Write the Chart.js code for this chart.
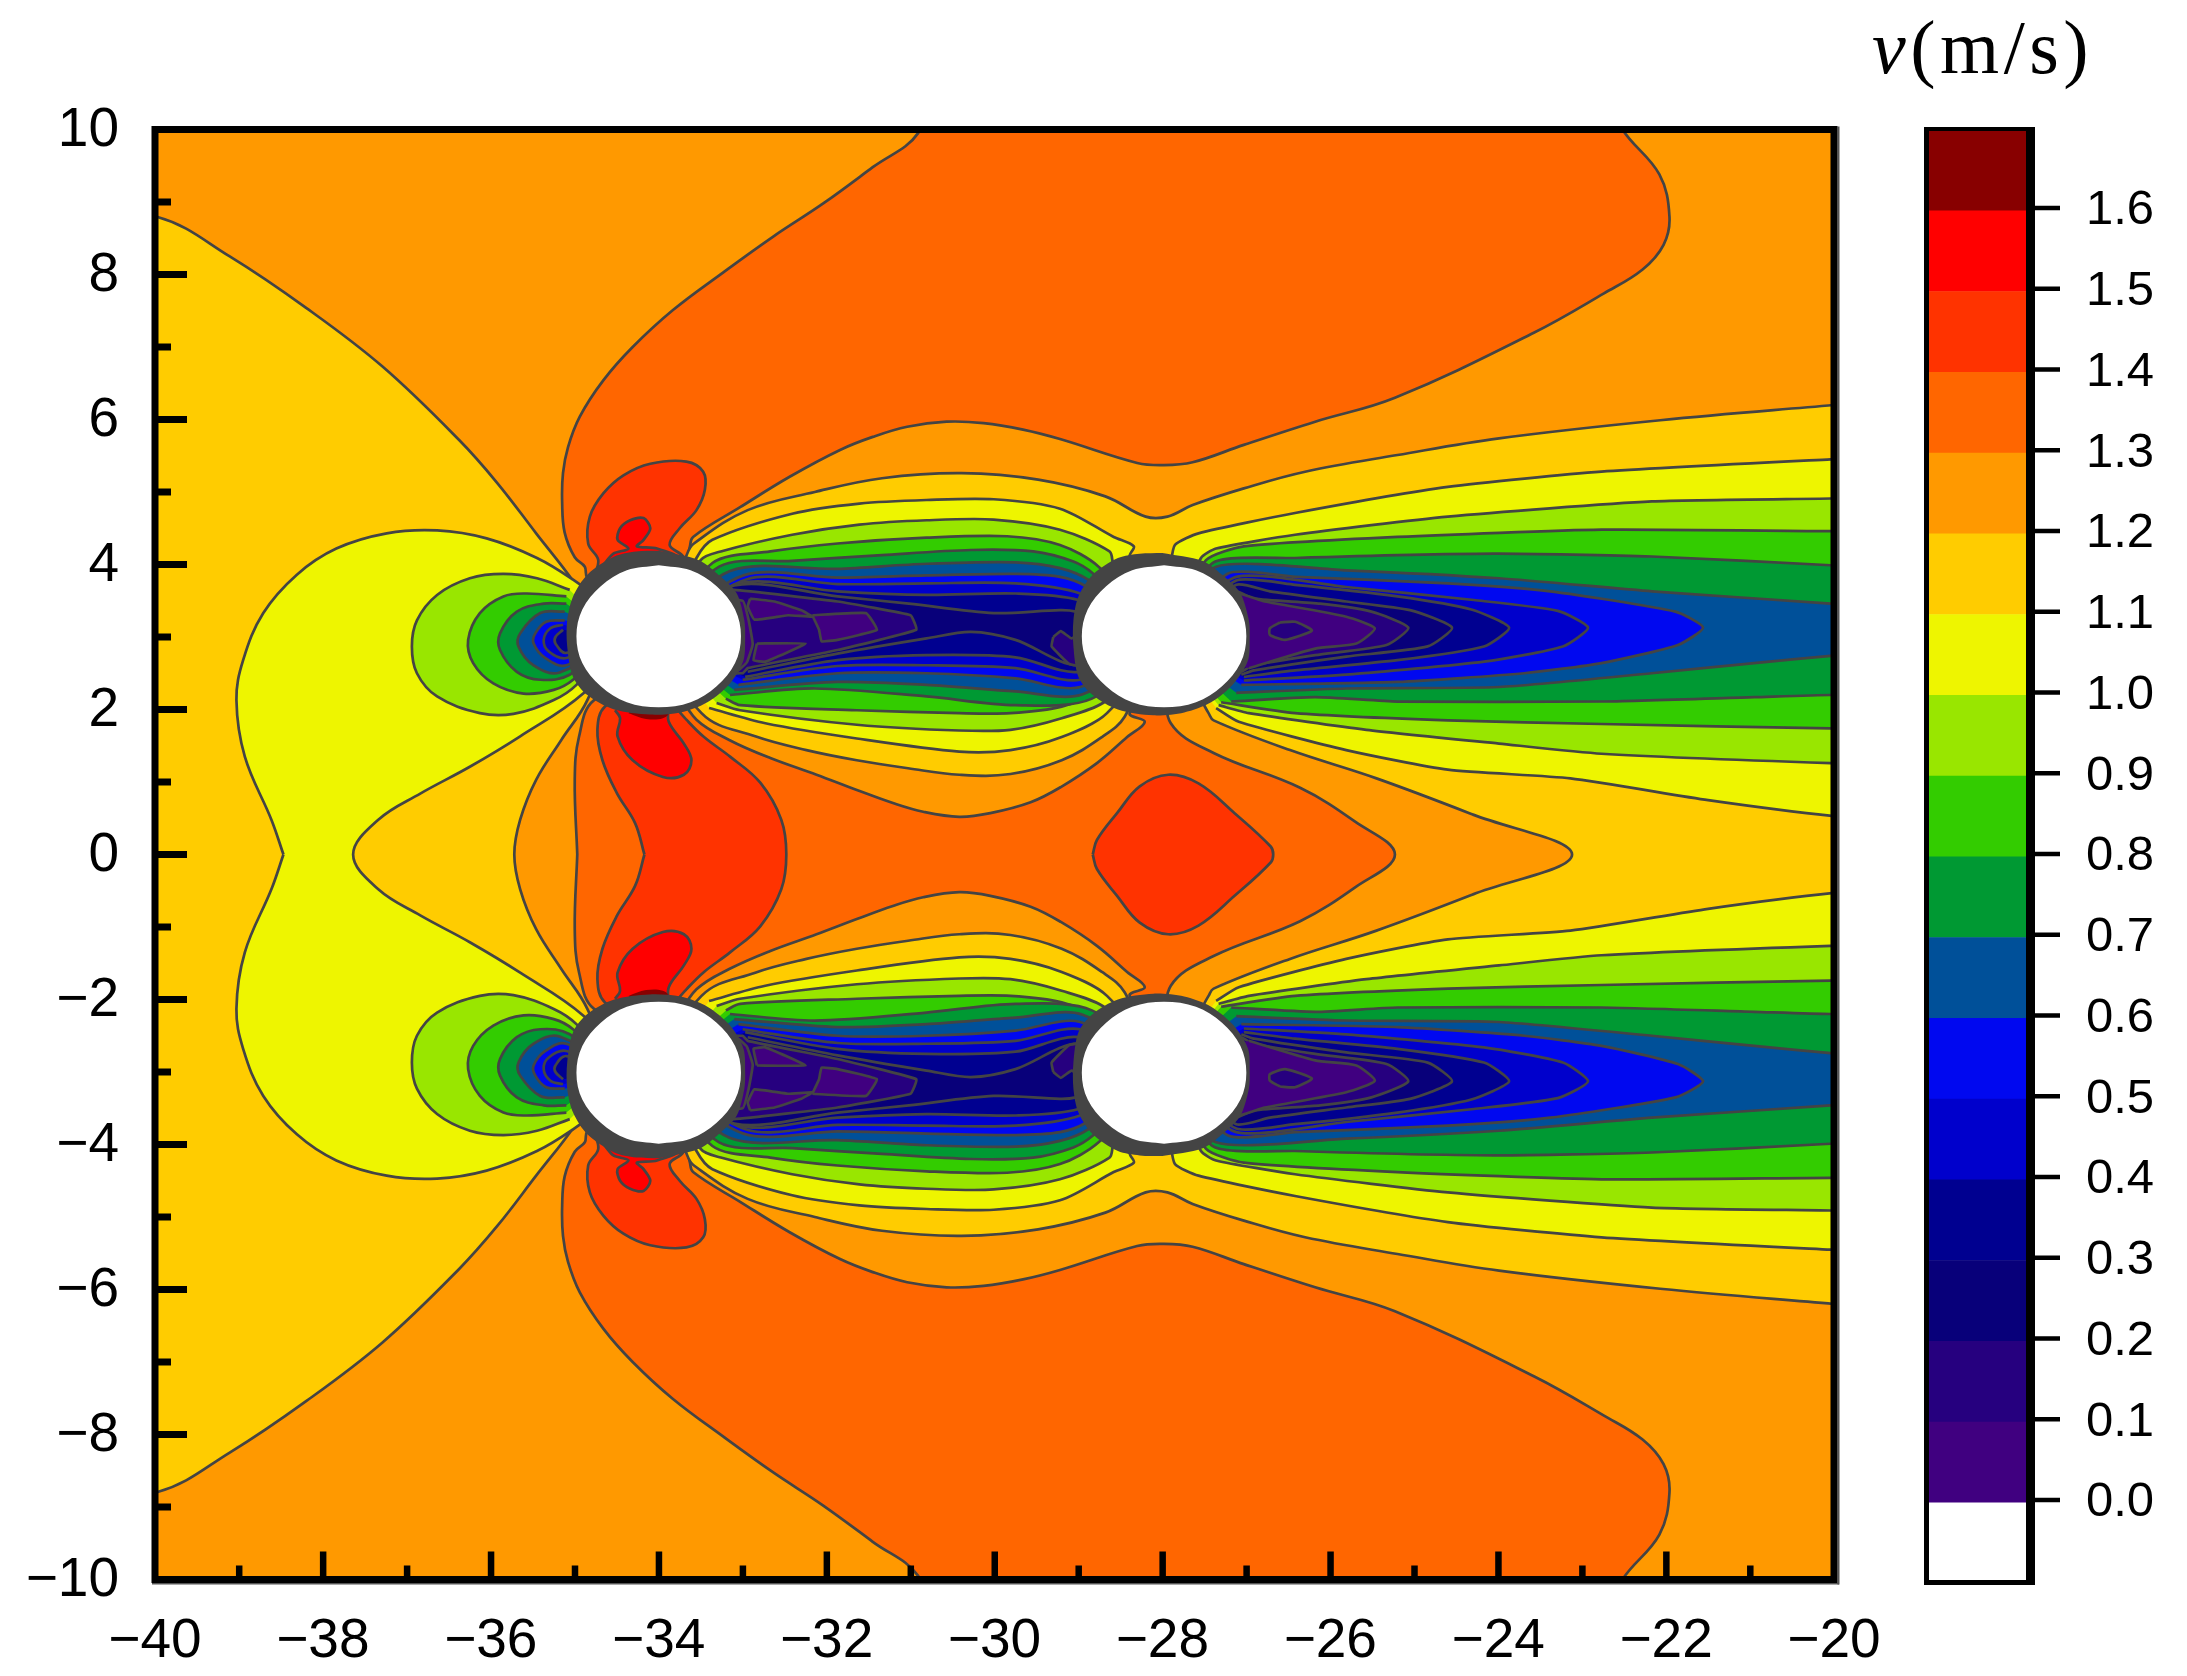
<!DOCTYPE html>
<html>
<head>
<meta charset="utf-8">
<style>
  html, body { margin: 0; padding: 0; background: #ffffff; }
  canvas { position: absolute; left: 0; top: 0; }
  #unitLabel { position: absolute; left: 1872px; top: -2px; line-height: 98px; font-family: "Liberation Serif", serif; font-size: 76px; letter-spacing: 4.5px; color: #000; white-space: nowrap; }
</style>
<script src="https://cdn.jsdelivr.net/npm/chart.js@4/dist/chart.umd.min.js"></script>
</head>
<body>
<canvas id="fieldChart" width="2187" height="1676"></canvas>
<canvas id="scaleChart" width="2187" height="1676"></canvas>
<div id="unitLabel"><i>v</i>(m/s)</div>
<script>
// colour bands, lowest first, and their level limits
const bandLow = [-0.1, 0, 0.1, 0.2, 0.3, 0.4, 0.5, 0.6, 0.7, 0.8, 0.9, 1.0, 1.1, 1.2, 1.3, 1.4, 1.5, 1.6];
const bandHigh = [0, 0.1, 0.2, 0.3, 0.4, 0.5, 0.6, 0.7, 0.8, 0.9, 1.0, 1.1, 1.2, 1.3, 1.4, 1.5, 1.6, 1.7];
const bandColors = ['#ffffff', '#400080', '#26007f', '#08007a', '#000090', '#0000cc', '#0008f0', '#005099', '#009933', '#33cc00', '#99e600', '#eef500', '#ffcc00', '#ff9900', '#ff6600', '#ff3300', '#ff0000', '#880000'];
const scaleTicks = [0, 0.1, 0.2, 0.3, 0.4, 0.5, 0.6, 0.7, 0.8, 0.9, 1.0, 1.1, 1.2, 1.3, 1.4, 1.5, 1.6];
const xMajor = [-38, -36, -34, -32, -30, -28, -26, -24, -22];
const xMinor = [-39, -37, -35, -33, -31, -29, -27, -25, -23, -21];
const yMajor = [-8, -6, -4, -2, 0, 2, 4, 6, 8];
const yMinor = [-9, -7, -5, -3, -1, 1, 3, 5, 7, 9];

const wholeField = [[-41, -11], [-41, 11], [-19, 11], [-19, -11], [-41, -11]];
const leftField = [[-41, 0], [-41, 8.86], [-39.96, 8.79], [-39.11, 8.25], [-38.2, 7.54], [-37.29, 6.73], [-36.38, 5.72], [-35.92, 5.12], [-35.46, 4.43], [-35, 3.74], [-34.6, 3], [-34.85, 2.13], [-35.16, 1.58], [-35.46, 1.03], [-35.65, 0.48], [-35.72, 0]];
const outerLobe = [[-30.85, 10.5], [-30.91, 9.95], [-31.45, 9.48], [-32.04, 8.98], [-32.64, 8.52], [-33.23, 8.03], [-33.83, 7.51], [-34.31, 7], [-34.66, 6.54], [-34.94, 6.04], [-35.08, 5.62], [-35.14, 5.26], [-35.15, 4.85], [-35.12, 4.44], [-35, 4.1], [-34.88, 3.97], [-34.85, 3.82], [-34.2, 3.2], [-33.66, 4.1], [-33.63, 4.24], [-33.59, 4.38], [-33.03, 4.79], [-32.44, 5.21], [-31.84, 5.58], [-31.45, 5.76], [-31.04, 5.9], [-30.57, 5.97], [-30.13, 5.95], [-29.66, 5.86], [-29.22, 5.73], [-28.3, 5.4], [-28, 5.37], [-27.64, 5.41], [-27.03, 5.65], [-26.18, 5.97], [-25.23, 6.3], [-23.57, 7.2], [-22.74, 7.74], [-22.28, 8.07], [-22.03, 8.41], [-21.96, 8.8], [-22.08, 9.38], [-22.52, 10], [-22.7, 10.5]];
const middleField = [[-34.97, 0], [-35, 1.03], [-34.95, 1.62], [-34.77, 2.13], [-34, 2.5], [-33.55, 1.86], [-33.16, 1.58], [-32.67, 1.33], [-32.12, 1.1], [-31.64, 0.89], [-31.21, 0.71], [-30.85, 0.59], [-30.42, 0.52], [-30.05, 0.57], [-29.57, 0.72], [-29.21, 0.93], [-28.78, 1.26], [-28.42, 1.62], [-28.21, 1.83], [-28.39, 1.95], [-28, 2.5], [-27.9, 1.81], [-27.39, 1.4], [-26.36, 0.92], [-25.7, 0.45], [-25.23, 0]];
const middleLobe = [[-34.17, 0], [-34.28, 0.43], [-34.5, 0.85], [-34.67, 1.3], [-34.73, 1.72], [-34.64, 2.04], [-34, 2.5], [-33.77, 2], [-33.67, 1.86], [-33.46, 1.62], [-33.15, 1.35], [-32.79, 0.99], [-32.54, 0.48], [-32.48, 0]];
const topLobe = [[-34.78, 3.81], [-34.72, 4.06], [-34.84, 4.29], [-34.82, 4.66], [-34.66, 4.98], [-34.42, 5.23], [-34.1, 5.39], [-33.67, 5.42], [-33.47, 5.28], [-33.45, 5.03], [-33.55, 4.75], [-33.75, 4.5], [-33.87, 4.27], [-33.71, 4.11], [-33.7, 3.95], [-34.2, 3.2]];
const topPeak = [[-34.66, 3.99], [-34.54, 4.15], [-34.36, 4.22], [-34.49, 4.34], [-34.46, 4.5], [-34.34, 4.61], [-34.18, 4.64], [-34.1, 4.5], [-34.18, 4.34], [-34.26, 4.25], [-34.02, 4.22], [-33.75, 4.06], [-34.2, 3.4]];
const lowPeak = [[-34.52, 1.99], [-34.46, 1.88], [-34.49, 1.63], [-34.31, 1.3], [-33.95, 1.07], [-33.7, 1.1], [-33.61, 1.3], [-33.7, 1.53], [-33.88, 1.83], [-33.9, 2.1], [-34.2, 2.5]];
const lowSpot = [[-34.36, 1.95], [-34.15, 1.87], [-33.95, 1.88], [-33.88, 1.97], [-34.1, 2.3]];
const centreDiamond = [[-28.83, 0], [-28.78, 0.2], [-28.54, 0.57], [-28.27, 0.94], [-27.93, 1.1], [-27.57, 0.98], [-27.14, 0.57], [-26.71, 0.11], [-26.68, 0]];

const wakeField120 = [[-19, 0], [-19, 6.3], [-20, 6.2], [-22.07, 5.99], [-23.99, 5.74], [-25.2, 5.51], [-26.3, 5.28], [-27.03, 5.05], [-27.64, 4.82], [-27.94, 4.66], [-28.2, 4.66], [-28.68, 4.94], [-29.48, 5.17], [-30.39, 5.26], [-31.34, 5.19], [-32.14, 5], [-32.94, 4.75], [-33.58, 4.29], [-33.66, 4.15], [-34, 3], [-33.49, 1.95], [-32.85, 1.63], [-32.24, 1.44], [-31.64, 1.3], [-31.03, 1.19], [-30.42, 1.1], [-29.81, 1.11], [-29.2, 1.3], [-28.72, 1.62], [-28.45, 1.9], [-28, 3], [-27.45, 1.95], [-27.39, 1.85], [-26.48, 1.44], [-25.45, 1.05], [-24.3, 0.55], [-23.12, 0]];
const frontLobe110 = [[-38.47, 0], [-38.61, 0.47], [-38.93, 1.35], [-39.03, 2.13], [-38.95, 2.68], [-38.71, 3.33], [-38.31, 3.86], [-37.84, 4.22], [-37.24, 4.43], [-36.64, 4.47], [-36.05, 4.36], [-35.45, 4.09], [-35.02, 3.79], [-34.7, 3.5], [-34.3, 3], [-34.9, 2.22], [-35.65, 1.63], [-36.25, 1.21], [-36.84, 0.84], [-37.34, 0.48], [-37.64, 0]];

// stagnation arcs in front of the first cylinder
const front100 = [[-35.06, 3.65], [-35.45, 3.81], [-35.85, 3.87], [-36.25, 3.81], [-36.64, 3.58], [-36.88, 3.23], [-36.94, 2.87], [-36.88, 2.5], [-36.64, 2.18], [-36.13, 1.95], [-35.73, 1.94], [-35.25, 2.13], [-34.98, 2.34], [-34.5, 3]];
const front090 = [[-35.1, 3.56], [-35.57, 3.6], [-35.85, 3.56], [-36.13, 3.33], [-36.27, 2.96], [-36.21, 2.64], [-35.97, 2.36], [-35.61, 2.22], [-35.25, 2.27], [-35.02, 2.41], [-34.5, 3]];
const front080 = [[-35.1, 3.46], [-35.37, 3.46], [-35.69, 3.35], [-35.89, 3.05], [-35.89, 2.82], [-35.69, 2.52], [-35.41, 2.41], [-35.06, 2.48], [-34.5, 3]];
const front070 = [[-35.12, 3.35], [-35.41, 3.33], [-35.65, 3.05], [-35.67, 2.87], [-35.49, 2.61], [-35.18, 2.51], [-34.5, 3]];
const front060 = [[-35.12, 3.23], [-35.34, 3.21], [-35.47, 3.05], [-35.49, 2.91], [-35.35, 2.71], [-35.1, 2.61], [-34.5, 3]];
const front050 = [[-35.14, 3.17], [-35.29, 3.12], [-35.37, 2.96], [-35.31, 2.8], [-35.1, 2.71], [-34.5, 3]];
const front040 = [[-35.14, 3.1], [-35.23, 3], [-35.23, 2.91], [-35.1, 2.78], [-34.5, 3]];

// wake between the cylinders: upper and lower contour of each level, left to right
const gapTop110 = [[-33.55, 4.09], [-33.36, 4.34], [-32.41, 4.7], [-31.61, 4.84], [-30.81, 4.89], [-30.01, 4.9], [-29.22, 4.77], [-28.58, 4.38], [-28.34, 4.25], [-28.39, 4.11]];
const gapLow110 = [[-33.4, 2.02], [-32.73, 1.81], [-31.64, 1.6], [-30.42, 1.42], [-29.81, 1.44], [-29.2, 1.62], [-28.66, 1.95]];
const gapTop100 = [[-33.5, 4.06], [-33.26, 4.18], [-32.41, 4.41], [-31.61, 4.55], [-30.81, 4.61], [-30.01, 4.62], [-29.22, 4.48], [-28.63, 4.18], [-28.58, 3.99]];
const gapLow100 = [[-33.31, 2.09], [-33.03, 1.99], [-31.64, 1.79], [-30.42, 1.71], [-29.81, 1.72], [-29.2, 1.88], [-28.66, 2.13]];
const gapTop090 = [[-33.36, 4.02], [-32.67, 4.18], [-31.87, 4.29], [-30.81, 4.37], [-29.85, 4.39], [-29.22, 4.27], [-28.76, 3.97]];
const gapLow090 = [[-33.2, 2.15], [-33.03, 2.06], [-31.64, 1.99], [-30.42, 1.95], [-29.81, 1.95], [-29.2, 2.04], [-28.75, 2.27]];
const gapTop080 = [[-33.28, 3.97], [-32.41, 4.05], [-31.34, 4.13], [-30.28, 4.2], [-29.54, 4.18], [-29.06, 4.04], [-28.82, 3.87]];
const gapLow080 = [[-33.15, 2.2], [-32.14, 2.29], [-30.81, 2.18], [-29.75, 2.06], [-28.84, 2.15]];
const gapTop070 = [[-33.15, 3.91], [-31.87, 3.94], [-30.81, 4.01], [-29.75, 4.03], [-29.22, 3.95], [-28.87, 3.78]];
const gapLow070 = [[-33.1, 2.27], [-31.87, 2.38], [-30.81, 2.34], [-29.75, 2.25], [-28.95, 2.21]];
const gapTop060 = [[-32.99, 3.85], [-31.87, 3.82], [-30.81, 3.85], [-29.75, 3.87], [-29.22, 3.83], [-28.91, 3.7]];
const gapLow060 = [[-33.05, 2.34], [-31.87, 2.5], [-30.81, 2.5], [-29.75, 2.43], [-28.98, 2.31]];
const gapTop050 = [[-32.94, 3.8], [-31.87, 3.73], [-30.81, 3.74], [-29.75, 3.74], [-28.98, 3.6]];
const gapLow050 = [[-33, 2.41], [-31.87, 2.6], [-30.81, 2.61], [-29.75, 2.57], [-28.98, 2.41]];
const gapTop040 = [[-33.04, 3.74], [-31.87, 3.63], [-30.81, 3.58], [-29.75, 3.6], [-29, 3.51]];
const gapLow040 = [[-32.97, 2.45], [-31.87, 2.68], [-30.81, 2.75], [-29.75, 2.72], [-29, 2.52]];
const gapTop030 = [[-33.1, 3.71], [-31.87, 3.56], [-31.02, 3.46], [-30.01, 3.33], [-29.22, 3.37], [-29.03, 3.35]];
const gapLow030 = [[-32.94, 2.52], [-31.87, 2.77], [-30.81, 2.98], [-30.28, 3.07], [-29.75, 2.96], [-29, 2.61]];
const gapCore020 = [[-34, 3.6], [-33.1, 3.65], [-31.87, 3.49], [-31, 3.3], [-30.93, 3.1], [-31.87, 2.82], [-32.94, 2.57], [-33, 2.5], [-34, 2.5]];
const gapEdge010 = [[-34, 3.6], [-33, 3.5], [-32.93, 3.24], [-32.88, 2.9], [-32.95, 2.65], [-33.1, 2.5], [-34, 2.4]];
const gapBlobA = [[-32.91, 3.53], [-32.62, 3.49], [-32.3, 3.37], [-32.17, 3.28], [-32.46, 3.3], [-32.86, 3.24], [-32.94, 3.42], [-32.91, 3.53]];
const gapBlobB = [[-32.17, 3.3], [-31.53, 3.33], [-31.4, 3.1], [-31.87, 2.96], [-32.06, 2.94], [-32.09, 3.1], [-32.17, 3.3]];
const gapBlobC = [[-32.83, 2.91], [-32.25, 2.91], [-32.73, 2.66], [-32.87, 2.68], [-32.83, 2.91]];
const gapBlobD = [[-29.3, 3], [-29.21, 3.08], [-29.08, 2.98], [-28.9, 3.12], [-28.9, 2.6], [-29.11, 2.63], [-29.32, 2.87], [-29.3, 3]];

// wake behind the second cylinder
const wakeTop110 = [[-27.9, 4], [-27.85, 4.27], [-27.57, 4.43], [-26.42, 4.71], [-24.6, 5.07], [-22.77, 5.28], [-20.04, 5.45], [-19, 5.5]];
const wakeLow110 = [[-27.36, 2.02], [-27.09, 1.83], [-25.81, 1.44], [-24.6, 1.17], [-23.14, 1.05], [-21.5, 0.75], [-20, 0.53], [-19, 0.45]];
const wakeTop100 = [[-27.54, 4.09], [-27.36, 4.22], [-26.42, 4.41], [-24.6, 4.66], [-22.17, 4.87], [-20.04, 4.91], [-19, 4.93]];
const wakeLow100 = [[-27.33, 2.06], [-26.97, 1.95], [-25.57, 1.72], [-23.99, 1.53], [-22.77, 1.39], [-20.04, 1.26], [-19, 1.24]];
const wakeTop090 = [[-27.48, 4.06], [-27.03, 4.25], [-25.2, 4.38], [-22.77, 4.48], [-20.04, 4.46], [-19, 4.46]];
const wakeLow090 = [[-27.3, 2.1], [-26.42, 1.95], [-24.6, 1.85], [-22.77, 1.8], [-20.04, 1.74], [-19, 1.74]];
const wakeTop080 = [[-27.39, 4.03], [-26.42, 4.09], [-24.05, 4.15], [-22.17, 4.11], [-20.04, 3.99], [-19, 3.93]];
const wakeLow080 = [[-27.18, 2.11], [-26.18, 2.17], [-25.2, 2.11], [-22.77, 2.11], [-20.95, 2.17], [-20.04, 2.2], [-19, 2.17]];
const wakeTop070 = [[-27.36, 3.97], [-25.81, 3.92], [-23.99, 3.81], [-22.17, 3.63], [-20.04, 3.46], [-19, 3.36]];
const wakeLow070 = [[-27.12, 2.23], [-25.81, 2.29], [-23.99, 2.31], [-22.17, 2.5], [-20.95, 2.64], [-20.04, 2.74], [-19, 2.82]];
const wakeTop060 = [[-27.21, 3.88], [-26.42, 3.83], [-24.6, 3.74], [-23.38, 3.63], [-21.89, 3.35], [-21.56, 3.13]];
const wakeLow060 = [[-27.06, 2.34], [-25.2, 2.38], [-23.69, 2.5], [-22.77, 2.64], [-21.86, 2.89]];
const wakeTop050 = [[-27.12, 3.83], [-25.81, 3.69], [-24.29, 3.51], [-23.29, 3.36], [-22.93, 3.13]];
const wakeLow050 = [[-27.03, 2.4], [-25.81, 2.48], [-24.17, 2.66], [-23.23, 2.87]];
const wakeTop040 = [[-27.12, 3.78], [-26.42, 3.72], [-25.2, 3.56], [-24.32, 3.38], [-23.87, 3.13]];
const wakeLow040 = [[-27.03, 2.45], [-26.42, 2.54], [-25.2, 2.68], [-24.17, 2.87]];
const wakeTop030 = [[-27.12, 3.72], [-26.72, 3.63], [-25.81, 3.49], [-25.05, 3.37], [-24.55, 3.13]];
const wakeLow030 = [[-27.06, 2.48], [-26.91, 2.54], [-25.81, 2.73], [-24.84, 2.87]];
const wakeTop020 = [[-27.15, 3.63], [-26.91, 3.53], [-26.12, 3.46], [-25.51, 3.35], [-25.07, 3.13]];
const wakeLow020 = [[-27.06, 2.52], [-26.91, 2.61], [-26.18, 2.75], [-25.33, 2.89]];
const wakeTop010 = [[-27.16, 3.6], [-26.78, 3.49], [-25.81, 3.28], [-25.47, 3.12]];
const wakeLow010 = [[-26.97, 2.57], [-26.18, 2.84], [-25.69, 2.91]];
const wakeSpot = [[-26.6, 3.2], [-26.42, 3.21], [-26.22, 3.09], [-26.54, 2.96], [-26.72, 3.03], [-26.72, 3.12], [-26.6, 3.2]];

// cylinder 1 and 2, dark rim of packed contours and the white hole
const rimA = [[-34, 4.19], [-33.52, 4.06], [-33.26, 3.83], [-33.07, 3.6], [-32.98, 3.23], [-32.97, 3], [-32.99, 2.68], [-33.15, 2.36], [-33.42, 2.1], [-33.74, 1.96], [-34.11, 1.93], [-34.53, 2], [-34.85, 2.2], [-35.02, 2.45], [-35.09, 2.87], [-35.09, 3.23], [-35.02, 3.56], [-34.85, 3.86], [-34.53, 4.11], [-34.27, 4.18], [-34, 4.19]];
const rimB = [[-28, 4.16], [-27.52, 4.05], [-27.26, 3.83], [-27.07, 3.6], [-26.97, 3.23], [-26.96, 3], [-26.98, 2.68], [-27.15, 2.36], [-27.42, 2.1], [-27.74, 1.96], [-28.11, 1.92], [-28.53, 2], [-28.83, 2.2], [-29, 2.45], [-29.06, 2.87], [-29.06, 3.23], [-29, 3.56], [-28.83, 3.86], [-28.53, 4.09], [-28.27, 4.15], [-28, 4.16]];
const holeA = [[-34, 3.99], [-33.62, 3.92], [-33.31, 3.7], [-33.09, 3.38], [-33.02, 3.01], [-33.09, 2.64], [-33.31, 2.32], [-33.62, 2.1], [-34, 2.03], [-34.38, 2.1], [-34.69, 2.32], [-34.91, 2.64], [-34.98, 3.01], [-34.91, 3.38], [-34.69, 3.7], [-34.38, 3.92], [-34, 3.99]];
const holeB = [[-27.98, 3.99], [-27.6, 3.92], [-27.29, 3.7], [-27.07, 3.38], [-27, 3.01], [-27.07, 2.64], [-27.29, 2.32], [-27.6, 2.1], [-27.98, 2.03], [-28.36, 2.1], [-28.67, 2.32], [-28.89, 2.64], [-28.96, 3.01], [-28.89, 3.38], [-28.67, 3.7], [-28.36, 3.92], [-27.98, 3.99]];

// path helpers
const flip = (pts) => pts.map(([x, y]) => [x, -y]);
const mirrored = (half) => half.concat(flip(half).reverse().slice(1));
const gapWake = (top, low) => [[-34, 3], ...top, [-28, 3], ...[...low].reverse()];
const backWake = (top, low) => [[-28, 3], ...top, ...[...low].reverse()];

const LINE = '#444444';
const LINE_W = 2.7;
const datasets = [];
function addLayer(pts, band, line = LINE, width = LINE_W, tension = 0.38) {
  datasets.push({
    data: pts.map(([x, y]) => ({ x, y })),
    showLine: true,
    pointRadius: 0,
    fill: 'shape',
    backgroundColor: band,
    borderColor: line,
    borderWidth: width,
    tension
  });
}
function addPair(pts, band, line, width, tension) {
  addLayer(pts, band, line, width, tension);
  addLayer(flip(pts), band, line, width, tension);
}
const c = (lvl) => bandColors[bandLow.findIndex((v) => Math.abs(v - lvl) < 0.001)];

// painted in this order, later layers sit on top
addLayer(wholeField, c(1.2), c(1.2), 0, 0);
addLayer(mirrored(leftField), c(1.1));
addPair(outerLobe, c(1.3));
addLayer(mirrored(middleField), c(1.3));
addPair(topLobe, c(1.4));
addLayer(mirrored(middleLobe), c(1.4));
addPair(topPeak, c(1.5), LINE, LINE_W, 0.3);
addPair(lowPeak, c(1.5));
addPair(lowSpot, c(1.6), c(1.6), 0);
addLayer(mirrored(centreDiamond), c(1.4));
addLayer(mirrored(wakeField120), c(1.1));
addLayer(mirrored(frontLobe110), c(1.0));

[[front100, 0.9], [front090, 0.8], [front080, 0.7], [front070, 0.6], [front060, 0.5], [front050, 0.4], [front040, 0.3]]
  .forEach(([pts, lvl]) => addPair(pts, c(lvl)));

[[gapTop110, gapLow110, 1.0], [gapTop100, gapLow100, 0.9], [gapTop090, gapLow090, 0.8], [gapTop080, gapLow080, 0.7],
 [gapTop070, gapLow070, 0.6], [gapTop060, gapLow060, 0.5], [gapTop050, gapLow050, 0.4], [gapTop040, gapLow040, 0.3],
 [gapTop030, gapLow030, 0.2]].forEach(([top, low, lvl]) => addPair(gapWake(top, low), c(lvl), LINE, LINE_W, 0.3));
addPair(gapCore020, c(0.1), LINE, LINE_W, 0.1);
addPair(gapEdge010, c(0), LINE, LINE_W, 0.1);
[gapBlobA, gapBlobB, gapBlobC].forEach((pts) => addPair(pts, c(0), LINE, LINE_W, 0.1));
addPair(gapBlobD, c(0.1), LINE, LINE_W, 0.1);

[[wakeTop110, wakeLow110, 1.0], [wakeTop100, wakeLow100, 0.9], [wakeTop090, wakeLow090, 0.8], [wakeTop080, wakeLow080, 0.7],
 [wakeTop070, wakeLow070, 0.6], [wakeTop060, wakeLow060, 0.5], [wakeTop050, wakeLow050, 0.4], [wakeTop040, wakeLow040, 0.3],
 [wakeTop030, wakeLow030, 0.2], [wakeTop020, wakeLow020, 0.1], [wakeTop010, wakeLow010, 0]]
  .forEach(([top, low, lvl]) => addPair(backWake(top, low), c(lvl), LINE, LINE_W, 0.2));
addPair(wakeSpot, c(0.1), LINE, LINE_W, 0.2);

addPair(rimA, LINE, LINE, 0, 0.3);
addPair(rimB, LINE, LINE, 0, 0.3);
addPair(holeA, '#ffffff', '#ffffff', 0, 0.35);
addPair(holeB, '#ffffff', '#ffffff', 0, 0.35);

// chart.js paints the first dataset last
datasets.reverse();

const minusLabel = (v) => (v < 0 ? '\u2212' + Math.abs(v) : String(v));

// ticks point into the plot and the frame closes on all four sides
const fieldFrame = {
  id: 'fieldFrame',
  afterDatasetsDraw(chart) {
    const { ctx, chartArea: a, scales } = chart;
    ctx.save();
    ctx.fillStyle = '#000';
    xMajor.forEach((v) => ctx.fillRect(scales.x.getPixelForValue(v) - 3, a.bottom - 28, 6.5, 28));
    xMinor.forEach((v) => ctx.fillRect(scales.x.getPixelForValue(v) - 3, a.bottom - 14, 6.5, 14));
    yMajor.forEach((v) => ctx.fillRect(a.left, scales.y.getPixelForValue(v) - 3.5, 32, 7));
    yMinor.forEach((v) => ctx.fillRect(a.left, scales.y.getPixelForValue(v) - 3.5, 16, 7));
    ctx.fillStyle = '#555';
    ctx.fillRect(a.right + 3.5, a.top - 3, 2, a.height + 8);
    ctx.fillRect(a.left - 3, a.bottom + 3.5, a.width + 8, 1.5);
    ctx.strokeStyle = '#000';
    ctx.lineWidth = 7;
    ctx.strokeRect(a.left, a.top, a.width, a.height);
    ctx.restore();
  }
};

new Chart(document.getElementById('fieldChart'), {
  type: 'scatter',
  data: { datasets },
  plugins: [fieldFrame],
  options: {
    responsive: false,
    animation: false,
    events: [],
    layout: { padding: { left: 0, top: 129.5, right: 353, bottom: 0 } },
    plugins: { legend: { display: false }, tooltip: { enabled: false } },
    scales: {
      x: {
        type: 'linear', min: -40, max: -20,
        grid: { display: false, drawTicks: false }, border: { display: false },
        afterFit: (s) => { s.height = 96.5; },
        ticks: { stepSize: 2, maxRotation: 0, autoSkip: false, padding: 29, color: '#000', font: { family: 'Liberation Sans', size: 55 }, callback: minusLabel }
      },
      y: {
        type: 'linear', min: -10, max: 10,
        grid: { display: false, drawTicks: false }, border: { display: false },
        afterFit: (s) => { s.width = 155; },
        ticks: { stepSize: 2, autoSkip: false, padding: 36, labelOffset: 1, color: '#000', font: { family: 'Liberation Sans', size: 55 }, callback: minusLabel }
      }
    }
  }
});

const scaleFrame = {
  id: 'scaleFrame',
  afterDatasetsDraw(chart) {
    const { ctx, chartArea: a, scales } = chart;
    ctx.save();
    ctx.fillStyle = '#000';
    ctx.fillRect(a.left - 5, 127, 5, 1458);
    ctx.fillRect(a.right, 127, 9, 1458);
    ctx.fillRect(a.left - 5, 127, a.width + 14, 4);
    ctx.fillRect(a.left - 5, 1580, a.width + 14, 5);
    scaleTicks.forEach((v) => ctx.fillRect(a.right + 9, scales.y.getPixelForValue(v) - 5, 25, 4.5));
    ctx.restore();
  }
};

new Chart(document.getElementById('scaleChart'), {
  type: 'bar',
  data: {
    labels: ['v'],
    datasets: bandColors.map((color, i) => ({ data: [[bandLow[i], bandHigh[i]]], backgroundColor: color, grouped: false, barPercentage: 1, categoryPercentage: 1 }))
  },
  plugins: [scaleFrame],
  options: {
    responsive: false,
    animation: false,
    events: [],
    layout: { padding: { left: 1929, top: 130, right: 0, bottom: 92.5 } },
    plugins: { legend: { display: false }, tooltip: { enabled: false } },
    scales: {
      x: { display: false },
      y: {
        position: 'right', min: -0.1, max: 1.7,
        grid: { display: false, drawTicks: false }, border: { display: false },
        afterFit: (s) => { s.width = 161; },
        ticks: {
          stepSize: 0.1, autoSkip: false, padding: 60, labelOffset: 0, color: '#000',
          font: { family: 'Liberation Sans', size: 49 },
          callback: (v) => (v > -0.05 && v < 1.65 ? v.toFixed(1) : '')
        }
      }
    }
  }
});
</script>
</body>
</html>
